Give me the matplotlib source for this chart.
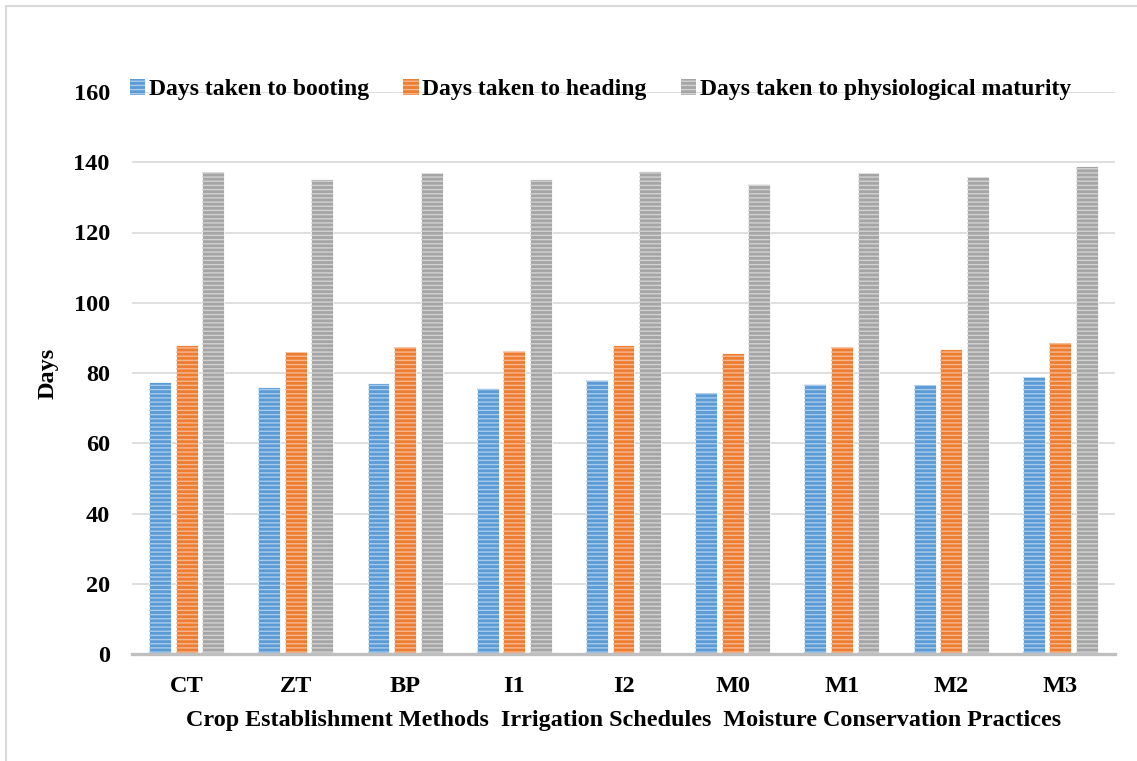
import matplotlib
matplotlib.use("Agg")
import matplotlib.pyplot as plt
from matplotlib.patches import Patch, Rectangle
import numpy as np

categories = ["CT", "ZT", "BP", "I1", "I2", "M0", "M1", "M2", "M3"]
booting = [77.3, 76.0, 77.1, 75.6, 78.0, 74.4, 76.9, 76.7, 79.0]
heading = [88.0, 86.1, 87.3, 86.2, 88.1, 85.8, 87.3, 86.8, 88.4]
maturity = [137.1, 135.1, 136.8, 135.1, 137.4, 133.8, 137.0, 135.9, 138.8]
series_names = ["Days taken to booting", "Days taken to heading",
                "Days taken to physiological maturity"]
y_ticks = [0, 20, 40, 60, 80, 100, 120, 140, 160]
x_title = "Crop Establishment Methods  Irrigation Schedules  Moisture Conservation Practices"
y_title = "Days"

base_colors = ["#5B9BD5", "#ED7D31", "#A5A5A5"]
stripe_colors = ["#A9CBEB", "#F6B892", "#D2D2D2"]

plt.rcParams["font.family"] = ["Liberation Serif", "DejaVu Serif"]
plt.rcParams["font.weight"] = "bold"
plt.rcParams["hatch.linewidth"] = 1.0

fig = plt.figure(figsize=(11.37, 7.61), dpi=100)
ax = fig.add_axes([132 / 1137, 1 - 654 / 761, (1115 - 132) / 1137, (654 - 92) / 761])

x = np.arange(len(categories))
width = 0.2
step = 0.243
for k, vals in enumerate([booting, heading, maturity]):
    pos = x + (k - 1) * step
    ax.bar(pos, vals, width, color=base_colors[k], edgecolor="white",
           linewidth=0.6, zorder=3)
    ax.bar(pos, vals, width, facecolor="none", edgecolor=stripe_colors[k],
           hatch="----", linewidth=0, zorder=4)

ax.set_xlim(-0.5, len(categories) - 0.5)
ax.set_ylim(0, 160)
ax.set_yticks(y_ticks)
ax.set_xticks(x)
ax.set_xticklabels(categories)
ax.grid(axis="y", color="#D9D9D9", linewidth=1.2, zorder=0)
ax.set_axisbelow(True)
for s in ["top", "right", "left"]:
    ax.spines[s].set_visible(False)
ax.spines["bottom"].set_color("#BFBFBF")
ax.spines["bottom"].set_linewidth(2.4)
ax.spines["bottom"].set_zorder(5)
ax.tick_params(axis="both", length=0, labelsize=17.5)
ax.tick_params(axis="y", pad=16)
ax.tick_params(axis="x", pad=16)
ax.set_xlabel(x_title, fontsize=17.4, fontweight="bold", labelpad=9)
ax.set_ylabel(y_title, fontsize=17.5, fontweight="bold", labelpad=11)

handles = [Patch(facecolor=base_colors[k], edgecolor=stripe_colors[k],
                 hatch="----", linewidth=0) for k in range(3)]
ax.legend(handles, series_names, loc="lower left", bbox_to_anchor=(-0.002, 0.985),
          ncol=3, frameon=False, fontsize=17, handlelength=0.65, handleheight=0.65,
          handletextpad=0.15, columnspacing=1.45, borderaxespad=0, borderpad=0)

fig.patches.append(Rectangle((6 / 1137, -0.05), 1.1, 1 - 5.5 / 761 + 0.05,
                             transform=fig.transFigure, fill=False,
                             edgecolor="#D9D9D9", linewidth=1.5, clip_on=False))

fig.savefig("out.png", dpi=100)
